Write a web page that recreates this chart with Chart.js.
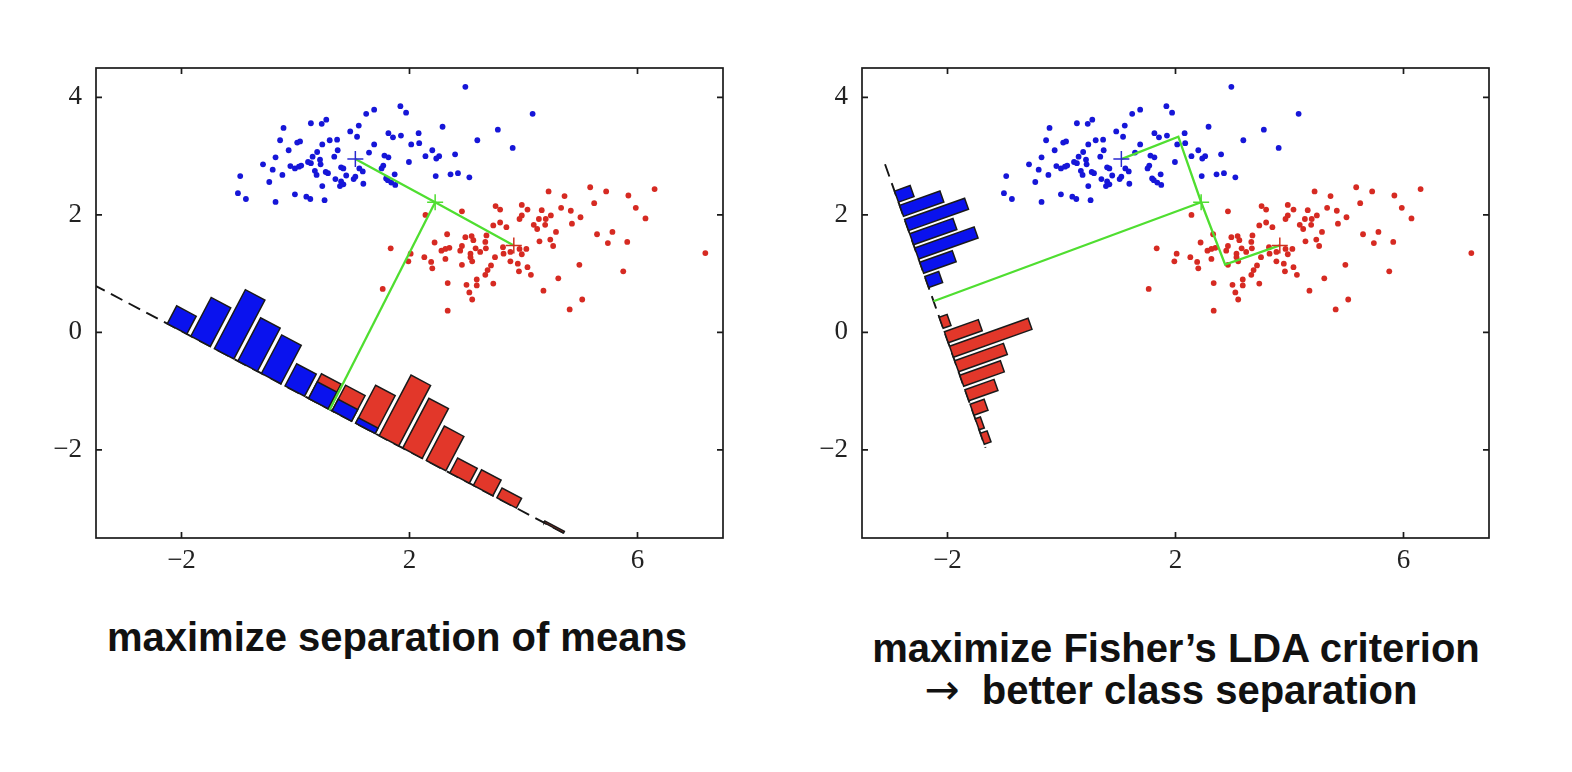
<!DOCTYPE html>
<html>
<head>
<meta charset="utf-8">
<script src="https://cdn.jsdelivr.net/npm/chart.js@4.4.1/dist/chart.umd.min.js"></script>
<style>
  html, body { margin: 0; padding: 0; background: #fff; }
  #page { position: relative; width: 1572px; height: 772px; overflow: hidden; background: #fff; }
  canvas { position: absolute; top: 0; }
  .title { position: absolute; width: 640px; text-align: center; white-space: nowrap;
           font-family: "Liberation Sans", Arial, sans-serif; font-weight: bold; font-size: 40px;
           line-height: 42px; color: #111; }
  .arrow { font-family: "DejaVu Sans", sans-serif; font-weight: normal; font-size: 42px; margin-right: 22px; }
</style>
</head>
<body>
<div id="page">
  <canvas id="leftChart" width="780" height="600" style="left:0px"></canvas>
  <canvas id="rightChart" width="780" height="600" style="left:766px"></canvas>
  <div class="title" style="left:77px; top:616px">maximize separation of means</div>
  <div class="title" style="left:856px; top:627px">maximize Fisher’s LDA criterion<br><span style="position:relative; left:-5px"><span class="arrow">→</span>better class separation</span></div>
</div>
<script>
// ticks
const xTicks = [-2, 2, 6];
const yTicks = [-2, 0, 2, 4];

// class 1 (blue) samples
const blueX = [2.98, 4.16, 1.84, 1.94, 1.38, 1.24, 0.54, 0.46, 0.27, -0.21,
  1.11, 0.96, 1.08, 2.58, 3.55, 2.16, 1.63, 1.71, 1.85, -0.27,
  0.03, 0.08, 0.60, 0.73, 0.47, 2.03, 2.17, 3.19, 3.81, 1.38,
  -0.12, 0.38, 0.74, 1.29, 2.40, 2.52, 2.47, 2.28, 2.80, 1.56,
  1.63, -0.35, 0.30, 0.43, 0.22, 0.27, 0.68, -0.57, -0.09, -0.01,
  0.06, 0.10, 0.44, 0.80, 0.84, 1.54, 1.51, 1.99, -0.40, 0.34,
  0.37, 0.57, 0.53, 1.12, 1.18, -0.23, -0.97, 0.70, 0.89, 1.02,
  1.05, 0.80, 1.59, 1.74, 1.68, 1.75, 1.62, 2.46, 2.72, 2.85,
  3.05, -0.46, 1.19, 0.47, 0.78, -1.01, -0.87, -0.35, -0.01, 0.19,
  0.26, 0.51, 0.84];
const blueY = [4.18, 3.72, 3.85, 3.74, 3.79, 3.72, 3.62, 3.55, 3.56, 3.48,
  3.52, 3.42, 3.33, 3.50, 3.45, 3.39, 3.39, 3.32, 3.35, 3.27,
  3.23, 3.25, 3.27, 3.28, 3.20, 3.20, 3.22, 3.27, 3.14, 3.20,
  3.10, 3.07, 3.10, 3.06, 3.10, 3.00, 2.96, 3.00, 3.03, 3.01,
  2.98, 2.98, 2.99, 2.94, 2.90, 2.88, 2.99, 2.86, 2.83, 2.79,
  2.82, 2.84, 2.86, 2.81, 2.79, 2.84, 2.79, 2.90, 2.77, 2.75,
  2.68, 2.71, 2.73, 2.79, 2.74, 2.68, 2.66, 2.61, 2.67, 2.61,
  2.65, 2.57, 2.62, 2.69, 2.55, 2.51, 2.59, 2.66, 2.69, 2.71,
  2.64, 2.56, 2.53, 2.49, 2.49, 2.37, 2.27, 2.22, 2.35, 2.31,
  2.27, 2.25, 2.52];

// class 2 (red) samples
const redX = [4.44, 5.17, 5.45, 4.72, 5.84, 6.30, 5.24, 5.97, 6.14, 3.51,
  3.59, 3.97, 4.07, 4.32, 4.48, 4.39, 4.66, 4.83, 5.00, 4.85,
  3.97, 3.93, 4.27, 4.18, 4.24, 4.38, 3.59, 3.47, 3.70, 4.57,
  5.29, 5.56, 5.48, 5.82, 2.92, 2.28, 2.66, 2.44, 2.98, 3.09,
  3.12, 3.35, 3.33, 3.34, 3.16, 2.92, 2.89, 2.56, 2.63, 2.70,
  3.07, 3.07, 3.24, 3.64, 3.65, 3.77, 3.93, 4.05, 3.97, 4.28,
  4.47, 4.52, 1.67, 2.02, 1.98, 2.26, 2.38, 2.40, 2.63, 2.92,
  3.10, 3.50, 3.43, 3.37, 3.33, 3.18, 3.00, 3.18, 3.05, 3.10,
  3.47, 3.77, 3.90, 3.92, 4.07, 4.13, 4.98, 5.75, 4.61, 4.35,
  5.03, 4.81, 2.67, 2.67, 1.53, 7.19];
const redY = [2.40, 2.47, 2.40, 2.32, 2.33, 2.44, 2.20, 2.12, 1.94, 2.15,
  2.09, 2.17, 2.09, 2.08, 1.99, 1.93, 2.12, 2.07, 1.96, 1.85,
  1.99, 1.93, 1.93, 1.83, 1.76, 1.83, 1.87, 1.82, 1.79, 1.71,
  1.67, 1.71, 1.52, 1.54, 2.06, 2.00, 1.67, 1.53, 1.62, 1.64,
  1.57, 1.65, 1.54, 1.43, 1.43, 1.47, 1.39, 1.39, 1.42, 1.44,
  1.34, 1.28, 1.37, 1.45, 1.34, 1.37, 1.42, 1.42, 1.33, 1.55,
  1.58, 1.47, 1.43, 1.34, 1.21, 1.28, 1.20, 1.09, 1.25, 1.15,
  1.21, 1.28, 1.14, 1.06, 0.98, 0.90, 0.81, 0.80, 0.68, 0.56,
  0.83, 1.21, 1.17, 1.04, 1.11, 0.98, 1.15, 1.04, 0.92, 0.71,
  0.56, 0.39, 0.84, 0.37, 0.74, 1.35];

// class means and their midpoint
const blueMean = [1.05, 2.95];
const redMean = [3.83, 1.48];
const midPoint = [2.45, 2.215];

// where the green guide lines meet the projection axes
const leftFoot = [0.595, -1.324];
const rightCornerA = [2.05, 3.33];
const rightCornerB = [2.87, 1.155];
const rightFoot = [-2.245, 0.529];

// projection axes: origin, unit direction, normal, extent along direction
const leftAxis = { origin: [-3.46, 0.768], dir: [0.890, -0.456], normal: [0.477, 0.879], from: -0.1, to: 9.17 };
const rightAxis = { origin: [-3.096, 2.862], dir: [0.343, -0.939], normal: [0.945, 0.326], from: 0, to: 5.14 };

// projected histograms (bin centre along axis, bar length)
const leftBlueBins = [1.553, 2.017, 2.481, 2.945, 3.409, 3.874, 4.338, 4.802, 5.266];
const leftBlueHist = [0.345, 0.749, 1.140, 0.835, 0.745, 0.429, 0.321, 0.223, 0.103];
const leftRedBins = [4.338, 4.802, 5.266, 5.730, 6.194, 6.658, 7.122, 7.586, 8.050, 8.515, 8.979];
const leftRedHist = [0.474, 0.495, 0.735, 1.171, 0.962, 0.665, 0.289, 0.301, 0.189, 0, 0.03];
const rightBlueBins = [0.587, 0.845, 1.103, 1.361, 1.619, 1.877, 2.135];
const rightBlueHist = [0.289, 0.749, 1.113, 0.803, 1.103, 0.603, 0.258];
const rightRedBins = [2.873, 3.136, 3.399, 3.662, 3.925, 4.188, 4.451, 4.714, 4.977];
const rightRedHist = [0.146, 0.630, 1.458, 0.905, 0.753, 0.540, 0.260, 0.096, 0.125];

const BLUE_BAR = '#0a12ee', RED_BAR = '#e2372a', EDGE = '#1a1a1a';
const BLUE_PT = '#1616d8', RED_PT = '#d62a22', GREEN = '#4fde30';

const toPt = p => ({ x: p[0], y: p[1] });

function onAxis(ax, t, h) {
  return {
    x: ax.origin[0] + t * ax.dir[0] + h * ax.normal[0],
    y: ax.origin[1] + t * ax.dir[1] + h * ax.normal[1]
  };
}

// rectangle standing on the axis; path starts at leftmost corner and ends at the rightmost
// so the filler clip covers the whole shape
function barPath(ax, t, h, w) {
  const c = [onAxis(ax, t - w / 2, 0), onAxis(ax, t + w / 2, 0), onAxis(ax, t + w / 2, h), onAxis(ax, t - w / 2, h)];
  let lo = 0, hi = 0;
  c.forEach((p, i) => { if (p.x < c[lo].x) lo = i; if (p.x > c[hi].x) hi = i; });
  const path = [];
  for (let j = 0; j <= 4; j++) path.push(c[(lo + j) % 4]);
  for (let j = 1; j <= 4; j++) { const k = (lo + j) % 4; path.push(c[k]); if (k === hi) break; }
  return path;
}

function barSets(ax, bins, hist, w, color, order) {
  return bins.map((t, i) => hist[i] > 0 ? {
    data: barPath(ax, t, hist[i], w), showLine: true, fill: 'shape',
    backgroundColor: color, borderColor: EDGE, borderWidth: 1.5, borderJoinStyle: 'miter',
    pointRadius: 0, order
  } : null).filter(Boolean);
}

function panelSets(ax, bins, w, greenPaths) {
  const sets = [];
  sets.push({ data: [onAxis(ax, ax.from, 0), onAxis(ax, ax.to, 0)], showLine: true,
    borderColor: '#151515', borderWidth: 1.9, borderDash: [13, 7], pointRadius: 0, order: 7 });
  sets.push(...barSets(ax, bins.redBins, bins.redHist, w, RED_BAR, 6));
  sets.push(...barSets(ax, bins.blueBins, bins.blueHist, w, BLUE_BAR, 5));
  sets.push({ data: blueX.map((x, i) => ({ x, y: blueY[i] })), pointRadius: 2.9, pointBorderWidth: 0,
    backgroundColor: BLUE_PT, order: 4 });
  sets.push({ data: redX.map((x, i) => ({ x, y: redY[i] })), pointRadius: 2.9, pointBorderWidth: 0,
    backgroundColor: RED_PT, order: 4 });
  greenPaths.forEach(p => sets.push({ data: p.map(toPt), showLine: true, borderColor: GREEN,
    borderWidth: 2.3, pointRadius: 0, order: 3 }));
  [[blueMean, '#2a2ad0'], [midPoint, GREEN], [redMean, '#d0301e']].forEach(([m, c]) => sets.push({
    data: [toPt(m)], pointStyle: 'cross', pointRadius: 8, borderWidth: 1.5, borderColor: c, order: 1 }));
  return sets;
}

const fmt = v => v < 0 ? '\u2212' + Math.abs(v) : String(v);
const tickFont = { family: 'Liberation Serif', size: 27 };

const framePlugin = {
  id: 'frame',
  afterDraw(chart) {
    const { ctx, chartArea: a, scales: { x, y } } = chart;
    ctx.save();
    ctx.strokeStyle = EDGE;
    ctx.lineWidth = 1.7;
    ctx.strokeRect(a.left, a.top, a.right - a.left, a.bottom - a.top);
    ctx.beginPath();
    x.ticks.forEach(t => {
      const p = x.getPixelForValue(t.value);
      ctx.moveTo(p, a.bottom); ctx.lineTo(p, a.bottom - 6);
      ctx.moveTo(p, a.top); ctx.lineTo(p, a.top + 6);
    });
    y.ticks.forEach(t => {
      const p = y.getPixelForValue(t.value);
      ctx.moveTo(a.left, p); ctx.lineTo(a.left + 6, p);
      ctx.moveTo(a.right, p); ctx.lineTo(a.right - 6, p);
    });
    ctx.stroke();
    ctx.restore();
  }
};

function makeChart(id, datasets) {
  return new Chart(document.getElementById(id), {
    type: 'scatter',
    data: { datasets },
    options: {
      responsive: false, animation: false, events: [],
      layout: { padding: { left: 36, right: 57, top: 68, bottom: 22 } },
      plugins: { legend: { display: false }, tooltip: { enabled: false } },
      scales: {
        x: {
          type: 'linear', min: -3.5, max: 7.5,
          grid: { display: false, drawTicks: false }, border: { display: false },
          afterBuildTicks: s => { s.ticks = xTicks.map(v => ({ value: v })); },
          afterFit: s => { s.height = 40; },
          ticks: { padding: 7, color: '#222', font: tickFont, callback: fmt, maxRotation: 0, autoSkip: false }
        },
        y: {
          type: 'linear', min: -3.5, max: 4.5,
          grid: { display: false, drawTicks: false }, border: { display: false },
          afterBuildTicks: s => { s.ticks = yTicks.map(v => ({ value: v })); },
          afterFit: s => { s.width = 60; },
          ticks: { padding: 14, color: '#222', font: tickFont, callback: fmt, autoSkip: false }
        }
      }
    },
    plugins: [framePlugin]
  });
}

makeChart('leftChart', panelSets(leftAxis,
  { blueBins: leftBlueBins, blueHist: leftBlueHist, redBins: leftRedBins, redHist: leftRedHist },
  0.385, [[blueMean, midPoint, redMean], [midPoint, leftFoot]]));

makeChart('rightChart', panelSets(rightAxis,
  { blueBins: rightBlueBins, blueHist: rightBlueHist, redBins: rightRedBins, redHist: rightRedHist },
  0.2, [[blueMean, rightCornerA, midPoint, rightCornerB, redMean], [midPoint, rightFoot]]));
</script>
</body>
</html>
